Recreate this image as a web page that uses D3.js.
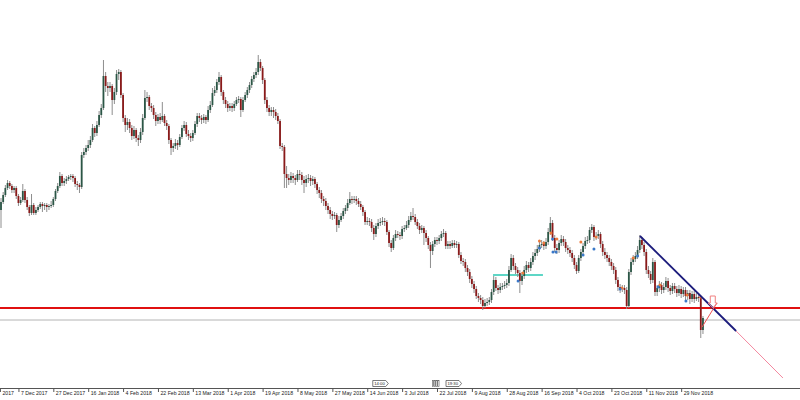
<!DOCTYPE html>
<html><head><meta charset="utf-8">
<script src="https://cdn.jsdelivr.net/npm/d3@7"></script>
<style>html,body{margin:0;padding:0;background:#fff;}svg{display:block}</style>
</head><body>
<svg id="chart" width="800" height="400"></svg>
<script>
// ---- data (daily candles, one per bar index) ----
const closes = [1.298,1.305,1.312,1.317,1.314,1.310,1.312,1.304,1.297,1.300,1.309,1.300,1.293,1.287,1.295,1.287,1.290,1.293,1.296,1.294,
1.295,1.293,1.294,1.295,1.301,1.309,1.314,1.324,1.317,1.319,1.321,1.323,1.324,1.322,1.316,1.315,1.313,1.345,1.348,1.352,
1.355,1.360,1.372,1.367,1.375,1.385,1.392,1.424,1.414,1.412,1.414,1.400,1.408,1.426,1.428,1.405,1.382,1.375,1.378,1.372,
1.364,1.370,1.362,1.360,1.368,1.382,1.402,1.403,1.394,1.392,1.385,1.379,1.383,1.380,1.384,1.377,1.374,1.360,1.352,1.354,
1.357,1.355,1.363,1.372,1.375,1.366,1.364,1.362,1.367,1.376,1.384,1.382,1.380,1.383,1.380,1.390,1.395,1.407,1.410,1.418,
1.423,1.408,1.400,1.396,1.392,1.394,1.392,1.396,1.400,1.401,1.390,1.400,1.405,1.410,1.415,1.421,1.425,1.428,1.438,1.432,
1.420,1.400,1.392,1.388,1.390,1.388,1.384,1.379,1.354,1.353,1.326,1.322,1.320,1.324,1.322,1.320,1.326,1.325,1.320,1.317,
1.321,1.322,1.319,1.321,1.316,1.310,1.307,1.301,1.299,1.294,1.290,1.286,1.284,1.285,1.275,1.280,1.284,1.289,1.292,1.297,
1.301,1.300,1.301,1.299,1.296,1.293,1.288,1.278,1.279,1.278,1.272,1.266,1.274,1.277,1.278,1.279,1.278,1.268,1.257,1.252,
1.262,1.266,1.265,1.264,1.271,1.272,1.275,1.280,1.284,1.283,1.278,1.274,1.270,1.272,1.267,1.262,1.255,1.249,1.256,1.260,
1.259,1.262,1.266,1.267,1.254,1.256,1.254,1.257,1.255,1.256,1.245,1.239,1.238,1.232,1.228,1.221,1.216,1.211,1.204,1.202,
1.200,1.194,1.197,1.198,1.200,1.208,1.220,1.212,1.210,1.213,1.214,1.215,1.217,1.230,1.242,1.234,1.230,1.227,1.219,1.224,
1.230,1.235,1.232,1.238,1.244,1.247,1.251,1.255,1.256,1.254,1.258,1.268,1.277,1.262,1.252,1.250,1.257,1.261,1.258,1.252,
1.250,1.247,1.242,1.235,1.229,1.242,1.248,1.254,1.259,1.260,1.270,1.273,1.263,1.264,1.266,1.256,1.248,1.245,1.242,1.238,
1.234,1.230,1.220,1.213,1.211,1.212,1.210,1.194,1.228,1.238,1.241,1.244,1.250,1.260,1.255,1.248,1.230,1.226,1.220,1.238,
1.208,1.212,1.215,1.210,1.213,1.219,1.212,1.209,1.214,1.211,1.207,1.211,1.206,1.210,1.204,1.207,1.201,1.206,1.201,1.203,
1.202,1.170,1.182];

const opens = [1.290,1.298,1.305,1.312,1.317,1.314,1.310,1.312,1.304,1.297,1.300,1.309,1.300,1.293,1.287,1.295,1.287,1.290,1.293,1.296,
1.294,1.295,1.293,1.294,1.295,1.301,1.309,1.314,1.324,1.317,1.319,1.321,1.323,1.324,1.322,1.316,1.315,1.313,1.345,1.348,
1.352,1.355,1.360,1.372,1.367,1.375,1.385,1.392,1.424,1.414,1.412,1.414,1.400,1.408,1.426,1.428,1.405,1.382,1.375,1.378,
1.372,1.364,1.370,1.362,1.360,1.368,1.382,1.402,1.403,1.394,1.392,1.385,1.379,1.383,1.380,1.384,1.377,1.374,1.360,1.352,
1.354,1.357,1.355,1.363,1.372,1.375,1.366,1.364,1.362,1.367,1.376,1.384,1.382,1.380,1.383,1.380,1.390,1.395,1.407,1.410,
1.418,1.423,1.408,1.400,1.396,1.392,1.394,1.392,1.396,1.400,1.401,1.390,1.400,1.405,1.410,1.415,1.421,1.425,1.428,1.438,
1.432,1.420,1.400,1.392,1.388,1.390,1.388,1.384,1.379,1.354,1.353,1.326,1.322,1.320,1.324,1.322,1.320,1.326,1.325,1.320,
1.317,1.321,1.322,1.319,1.321,1.316,1.310,1.307,1.301,1.299,1.294,1.290,1.286,1.284,1.285,1.275,1.280,1.284,1.289,1.292,
1.297,1.301,1.300,1.301,1.299,1.296,1.293,1.288,1.278,1.279,1.278,1.272,1.266,1.274,1.277,1.278,1.279,1.278,1.268,1.257,
1.252,1.262,1.266,1.265,1.264,1.271,1.272,1.275,1.280,1.284,1.283,1.278,1.274,1.270,1.272,1.267,1.262,1.255,1.249,1.256,
1.260,1.259,1.262,1.266,1.267,1.254,1.256,1.254,1.257,1.255,1.256,1.245,1.239,1.238,1.232,1.228,1.221,1.216,1.211,1.204,
1.202,1.200,1.194,1.197,1.198,1.200,1.208,1.220,1.212,1.210,1.213,1.214,1.215,1.217,1.230,1.242,1.234,1.230,1.227,1.219,
1.224,1.230,1.235,1.232,1.238,1.244,1.247,1.251,1.255,1.256,1.254,1.258,1.268,1.277,1.262,1.252,1.250,1.257,1.261,1.258,
1.252,1.250,1.247,1.242,1.235,1.229,1.242,1.248,1.254,1.259,1.260,1.270,1.273,1.263,1.264,1.266,1.256,1.248,1.245,1.242,
1.238,1.234,1.230,1.220,1.213,1.211,1.212,1.210,1.194,1.228,1.238,1.241,1.244,1.250,1.260,1.255,1.248,1.230,1.226,1.220,
1.238,1.208,1.212,1.215,1.210,1.213,1.219,1.212,1.209,1.214,1.211,1.207,1.211,1.206,1.210,1.204,1.207,1.201,1.206,1.201,
1.203,1.202,1.170];

const highs = [1.302,1.308,1.315,1.320,1.319,1.316,1.314,1.314,1.306,1.303,1.316,1.311,1.303,1.295,1.306,1.297,1.293,1.295,1.298,1.298,
1.297,1.297,1.296,1.299,1.303,1.311,1.317,1.328,1.326,1.322,1.324,1.325,1.326,1.326,1.324,1.319,1.317,1.348,1.352,1.355,
1.360,1.364,1.376,1.374,1.379,1.389,1.396,1.440,1.428,1.418,1.418,1.416,1.412,1.430,1.431,1.430,1.407,1.385,1.382,1.381,
1.375,1.374,1.372,1.365,1.372,1.386,1.410,1.408,1.405,1.397,1.395,1.388,1.386,1.387,1.398,1.386,1.380,1.376,1.362,1.357,
1.361,1.360,1.366,1.375,1.379,1.378,1.370,1.367,1.370,1.379,1.387,1.387,1.385,1.386,1.385,1.394,1.399,1.412,1.414,1.421,
1.428,1.425,1.410,1.403,1.399,1.397,1.397,1.399,1.403,1.404,1.403,1.403,1.408,1.413,1.418,1.424,1.428,1.432,1.445,1.441,
1.434,1.422,1.403,1.395,1.393,1.393,1.391,1.387,1.381,1.357,1.355,1.334,1.326,1.328,1.327,1.325,1.330,1.330,1.328,1.324,
1.325,1.326,1.325,1.324,1.323,1.318,1.313,1.310,1.304,1.302,1.297,1.293,1.289,1.288,1.287,1.284,1.287,1.292,1.295,1.301,
1.308,1.304,1.304,1.304,1.302,1.299,1.295,1.290,1.283,1.282,1.281,1.275,1.277,1.281,1.282,1.283,1.282,1.280,1.270,1.260,
1.265,1.270,1.269,1.268,1.274,1.275,1.279,1.284,1.288,1.292,1.286,1.281,1.277,1.275,1.274,1.270,1.264,1.258,1.259,1.263,
1.263,1.265,1.269,1.271,1.269,1.259,1.259,1.260,1.260,1.259,1.258,1.248,1.242,1.241,1.235,1.231,1.224,1.219,1.214,1.207,
1.205,1.203,1.201,1.202,1.203,1.211,1.224,1.223,1.215,1.217,1.217,1.219,1.221,1.234,1.246,1.245,1.237,1.233,1.230,1.228,
1.234,1.239,1.238,1.242,1.248,1.251,1.255,1.259,1.260,1.259,1.262,1.272,1.283,1.280,1.265,1.256,1.260,1.265,1.264,1.261,
1.255,1.253,1.250,1.245,1.238,1.245,1.251,1.257,1.263,1.264,1.273,1.276,1.275,1.268,1.270,1.268,1.259,1.252,1.248,1.245,
1.241,1.237,1.233,1.223,1.216,1.215,1.215,1.213,1.231,1.242,1.245,1.248,1.254,1.265,1.263,1.258,1.251,1.234,1.229,1.242,
1.240,1.215,1.219,1.218,1.217,1.223,1.222,1.215,1.217,1.217,1.214,1.215,1.214,1.213,1.213,1.210,1.210,1.209,1.209,1.207,
1.206,1.204,1.184];

const lows = [1.272,1.296,1.303,1.310,1.311,1.307,1.307,1.301,1.294,1.295,1.298,1.297,1.290,1.284,1.285,1.285,1.285,1.288,1.291,1.288,
1.290,1.288,1.290,1.292,1.293,1.299,1.307,1.312,1.314,1.314,1.316,1.319,1.320,1.318,1.313,1.310,1.307,1.311,1.342,1.345,
1.349,1.352,1.358,1.363,1.364,1.373,1.382,1.390,1.408,1.404,1.408,1.385,1.396,1.405,1.420,1.402,1.378,1.368,1.370,1.367,
1.360,1.361,1.358,1.354,1.357,1.365,1.380,1.398,1.390,1.388,1.381,1.374,1.376,1.376,1.378,1.374,1.370,1.356,1.345,1.348,
1.351,1.350,1.353,1.361,1.369,1.363,1.360,1.358,1.359,1.365,1.373,1.378,1.376,1.377,1.376,1.378,1.387,1.393,1.404,1.407,
1.415,1.404,1.396,1.392,1.388,1.389,1.388,1.389,1.394,1.397,1.383,1.388,1.398,1.402,1.407,1.412,1.418,1.422,1.425,1.429,
1.416,1.396,1.388,1.384,1.384,1.382,1.380,1.376,1.351,1.349,1.312,1.312,1.315,1.317,1.317,1.315,1.318,1.320,1.315,1.307,
1.313,1.317,1.314,1.315,1.312,1.306,1.302,1.297,1.294,1.290,1.286,1.281,1.280,1.281,1.268,1.272,1.278,1.281,1.286,1.289,
1.295,1.296,1.297,1.295,1.293,1.290,1.284,1.275,1.275,1.274,1.268,1.260,1.263,1.271,1.274,1.275,1.274,1.265,1.253,1.248,
1.250,1.259,1.262,1.260,1.261,1.268,1.270,1.272,1.278,1.280,1.275,1.271,1.266,1.267,1.255,1.258,1.251,1.232,1.245,1.253,
1.255,1.256,1.259,1.263,1.251,1.251,1.251,1.252,1.252,1.252,1.242,1.236,1.234,1.228,1.224,1.217,1.212,1.207,1.201,1.198,
1.196,1.190,1.192,1.194,1.195,1.197,1.205,1.209,1.206,1.207,1.210,1.211,1.212,1.214,1.228,1.230,1.226,1.223,1.207,1.215,
1.221,1.227,1.228,1.229,1.235,1.240,1.244,1.248,1.252,1.250,1.251,1.255,1.265,1.259,1.248,1.246,1.247,1.254,1.254,1.248,
1.246,1.243,1.238,1.231,1.226,1.227,1.239,1.245,1.251,1.256,1.257,1.267,1.259,1.260,1.261,1.252,1.244,1.241,1.238,1.234,
1.230,1.226,1.216,1.209,1.207,1.208,1.206,1.191,1.192,1.225,1.235,1.238,1.241,1.247,1.251,1.244,1.226,1.222,1.216,1.217,
1.204,1.204,1.208,1.206,1.207,1.210,1.208,1.205,1.206,1.207,1.203,1.204,1.202,1.203,1.198,1.200,1.196,1.198,1.197,1.199,
1.198,1.162,1.166];

// time axis: bar index of each label, and its text (first one only shows its year at the left edge)
const tickBars = [-0.5,8,24,40,56,72,88,104,120,136,152,168,184,200,216,232,248,264,280,296,312];
const tickLabels = ["2017","7 Dec 2017","27 Dec 2017","16 Jan 2018","4 Feb 2018","22 Feb 2018","13 Mar 2018",
  "1 Apr 2018","19 Apr 2018","8 May 2018","27 May 2018","14 Jun 2018","3 Jul 2018","22 Jul 2018","9 Aug 2018",
  "28 Aug 2018","16 Sep 2018","4 Oct 2018","23 Oct 2018","11 Nov 2018","29 Nov 2018"];

// drawn objects (bar index, price)
const supportLevel = 1.192;
const greyLevel = 1.180;
const zoneLevel = 1.225;
const zoneBars = [225.7, 248.6];
const trendLine = [[293.1, 1.264], [337.2, 1.169]];
const trendRay = [[337.2, 1.169], [358.7, 1.122]];
const arrowLine = [[321.6, 1.173], [328.4, 1.197]];
const sellArrow = [326.5, 1.192];
const orangeDots = [[247,1.259],[249,1.257],[252.3,1.267],[255,1.261],[266,1.258],[273,1.263],[239.4,1.227],[284.9,1.212],[290,1.242],[302.3,1.215],[314.7,1.205],[321,1.203]];
const blueDots = [[247,1.252],[253,1.261],[253.2,1.248],[254.6,1.248],[267,1.245],[272,1.251],[237.2,1.219],[284,1.211],[292,1.244],[301.4,1.213],[314.2,1.199]];
const events = [{bar:171, label:"14:00", bars:0},{bar:204.6, label:"19:30", bars:4}];

// ---- drawing ----
const svg = d3.select('#chart');
const W = 800, H = 400, axisY = 388;
const x = d3.scaleLinear().domain([0, 366]).range([1, 1 + 2.18 * 366]);
const y = d3.scaleLinear().domain([1.115, 1.5]).range([385, 0]);
const idx = d3.range(closes.length);
const bull = '#2b5646', bear = '#8a1a1a', wick = '#8e8e8e';

const lines = svg.append('g');
lines.append('line').attr('x1',0).attr('x2',W).attr('y1',y(greyLevel)).attr('y2',y(greyLevel))
  .attr('stroke','#b4b4b4').attr('stroke-width',1);
lines.append('line').attr('x1',0).attr('x2',W).attr('y1',y(supportLevel)).attr('y2',y(supportLevel))
  .attr('stroke','#e01010').attr('stroke-width',1.8);
lines.append('line').attr('x1',x(zoneBars[0])).attr('x2',x(zoneBars[1])).attr('y1',y(zoneLevel)).attr('y2',y(zoneLevel))
  .attr('stroke','#5ed6c6').attr('stroke-width',2);

// candles
const cg = svg.append('g');
cg.selectAll('line.w').data(idx).join('line').attr('class','w')
  .attr('x1', i => x(i)).attr('x2', i => x(i))
  .attr('y1', i => y(highs[i])).attr('y2', i => y(lows[i]))
  .attr('stroke', wick).attr('stroke-width', 1);
cg.selectAll('rect.b').data(idx).join('rect').attr('class','b')
  .attr('x', i => x(i) - 0.9).attr('width', 1.8)
  .attr('y', i => y(Math.max(opens[i], closes[i])))
  .attr('height', i => Math.max(1, Math.abs(y(opens[i]) - y(closes[i]))))
  .attr('fill', i => closes[i] >= opens[i] ? bull : bear);

// dots
svg.append('g').selectAll('circle').data(orangeDots).join('circle')
  .attr('cx', d => x(d[0])).attr('cy', d => y(d[1])).attr('r', 1.5).attr('fill', '#ec7a3c');
svg.append('g').selectAll('circle').data(blueDots).join('circle')
  .attr('cx', d => x(d[0])).attr('cy', d => y(d[1])).attr('r', 1.5).attr('fill', '#3a78c8');

// trend line + ray
svg.append('line').attr('x1', x(trendRay[0][0])).attr('y1', y(trendRay[0][1]))
  .attr('x2', x(trendRay[1][0])).attr('y2', y(trendRay[1][1])).attr('stroke', '#f3889f').attr('stroke-width', 1);
svg.append('line').attr('x1', x(trendLine[0][0])).attr('y1', y(trendLine[0][1]))
  .attr('x2', x(trendLine[1][0])).attr('y2', y(trendLine[1][1])).attr('stroke', '#1c1c7c').attr('stroke-width', 1.8);
svg.append('line').attr('x1', x(arrowLine[0][0])).attr('y1', y(arrowLine[0][1]))
  .attr('x2', x(arrowLine[1][0])).attr('y2', y(arrowLine[1][1])).attr('stroke', '#f05050').attr('stroke-width', 1);
{
  const ax = x(sellArrow[0]), ay = y(sellArrow[1]);
  const p = [[ax-2.5,ay-12],[ax+2.5,ay-12],[ax+2.5,ay-5],[ax+4.5,ay-5],[ax,ay],[ax-4.5,ay-5],[ax-2.5,ay-5]];
  svg.append('path').attr('d', 'M' + p.join('L') + 'Z').attr('fill', 'none')
    .attr('stroke', '#f08080').attr('stroke-width', 1);
}

// axis
svg.append('line').attr('x1',0).attr('x2',W).attr('y1',axisY+0.5).attr('y2',axisY+0.5).attr('stroke','#555');
const axis = d3.axisBottom(x).tickValues(tickBars).tickFormat((d,i) => tickLabels[i]).tickSizeInner(4).tickSizeOuter(0);
const ag = svg.append('g').attr('transform', `translate(0,${axisY})`).call(axis);
ag.select('.domain').remove();
ag.selectAll('.tick line').attr('stroke', '#555');
ag.selectAll('.tick text').attr('text-anchor','start').attr('x', 2).attr('y', 3.5)
  .attr('font-family','Liberation Sans, Arial, sans-serif').attr('font-size', 5.2).attr('fill','#222');

// event markers above the axis
const eg = svg.append('g').attr('font-family','Liberation Sans, Arial, sans-serif').attr('font-size', 4.2);
events.forEach(e => {
  const ex = x(e.bar);
  for (let k = 0; k < e.bars; k++) {
    eg.append('rect').attr('x', ex - 8 - (e.bars - k) * 1.8 + 0.5).attr('y', 380.5).attr('width', 1.3).attr('height', 6)
      .attr('fill','none').attr('stroke','#555').attr('stroke-width',0.6);
  }
  eg.append('path').attr('d', `M${ex-1},380.5 L${ex+12},380.5 L${ex+14.5},383.5 L${ex+12},386.5 L${ex-1},386.5 Z`)
    .attr('fill','#fff').attr('stroke','#444').attr('stroke-width',0.7);
  eg.append('text').attr('x', ex + 0.5).attr('y', 385.3).text(e.label).attr('fill','#222');
});
</script>
</body></html>
